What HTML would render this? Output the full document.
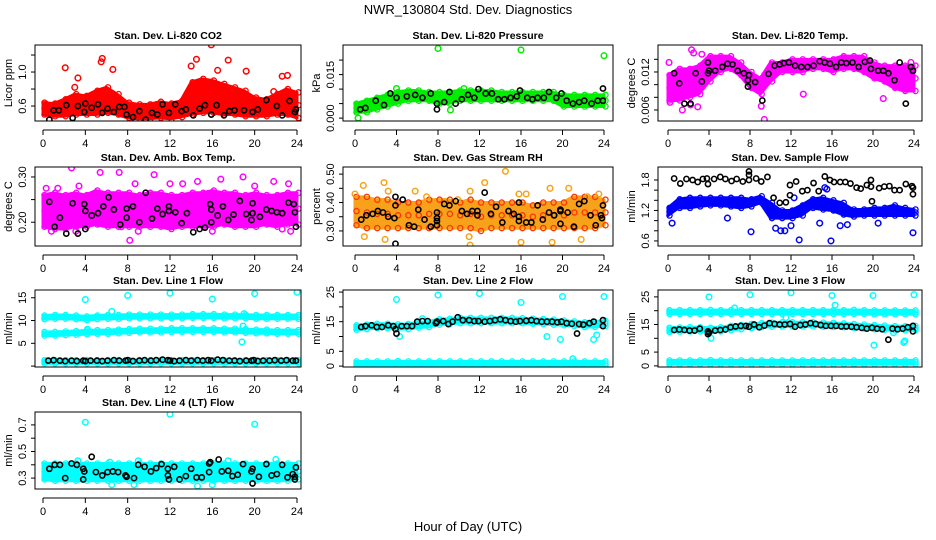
<!DOCTYPE html>
<html><head><meta charset="utf-8"><title>NWR_130804 Std. Dev. Diagnostics</title>
<style>
html,body{margin:0;padding:0;background:#fff;}
svg{display:block;font-family:"Liberation Sans",sans-serif;}
</style></head>
<body>
<svg id="chart" width="936" height="540" viewBox="0 0 936 540" xmlns="http://www.w3.org/2000/svg">
<rect width="936" height="540" fill="#fff"/>
<text x="468" y="14" text-anchor="middle" font-size="13">NWR_130804  Std. Dev. Diagnostics</text>
<text x="468" y="531" text-anchor="middle" font-size="13">Hour of Day (UTC)</text>
</svg>
<script>
const hours = [0,1,2,3,4,5,6,7,8,9,10,11,12,13,14,15,16,17,18,19,20,21,22,23,24];
const xTicks = [0,4,8,12,16,20,24];

// Panel 1 CO2
const co2Lo = [0.5,0.48,0.48,0.5,0.5,0.5,0.52,0.5,0.46,0.45,0.45,0.46,0.45,0.47,0.5,0.52,0.52,0.5,0.5,0.48,0.48,0.48,0.5,0.5,0.46];
const co2Hi = [0.64,0.63,0.68,0.74,0.72,0.78,0.82,0.74,0.64,0.62,0.62,0.65,0.63,0.66,0.88,0.92,0.9,0.86,0.82,0.78,0.7,0.68,0.74,0.8,0.76];
const co2Out = [[2.1,1.05],[3.3,0.93],[5.5,1.12],[5.6,1.16],[6.6,1.03],[14.5,1.15],[15.9,1.32],[17.5,1.14],[19.2,1.01],[22.6,0.95],[23.1,0.96],[14,1.07],[16.5,1.02],[0.3,0.62],[3,0.82],[21.8,0.77]];
const co2Blk = [[0.6,0.44],[1,0.55],[1.5,0.55],[2.2,0.61],[2.8,0.46],[3.3,0.6],[3.9,0.53],[4,0.63],[4.6,0.58],[5.2,0.62],[5.6,0.52],[6.1,0.57],[6.7,0.53],[7.2,0.59],[7.7,0.59],[7.9,0.5],[8.5,0.47],[9.1,0.54],[9.7,0.44],[10.3,0.52],[10.8,0.5],[11.3,0.62],[11.9,0.52],[12.5,0.62],[13.1,0.54],[13.5,0.56],[14.2,0.49],[14.8,0.57],[15.3,0.61],[15.9,0.5],[16.4,0.61],[17.1,0.49],[17.6,0.54],[18.1,0.55],[19,0.55],[19.8,0.53],[20.3,0.56],[21.1,0.67],[22.1,0.6],[22.6,0.49],[23.3,0.66],[23.8,0.53],[23.9,0.56]];
const co2Ticks = [0.6,0.8,1.0,1.2];
const co2Labels = ["0.6","","1.0",""];

// Panel 2 pressure
const presLo = [0.002,0.002,0.003,0.004,0.005,0.006,0.006,0.006,0.005,0.005,0.006,0.006,0.006,0.006,0.006,0.006,0.006,0.006,0.006,0.006,0.004,0.004,0.004,0.004,0.004];
const presHi = [0.005,0.006,0.007,0.008,0.009,0.0095,0.0095,0.009,0.009,0.009,0.0095,0.0095,0.0095,0.0095,0.009,0.009,0.009,0.009,0.009,0.009,0.008,0.008,0.008,0.008,0.008];
const presOut = [[8,0.024],[16,0.0235],[24,0.0215],[0.3,0.0],[4,0.0102],[10.5,0.0102],[9.2,0.0028]];
const presBlk = [[0.5,0.003],[1,0.0035],[2,0.006],[2.8,0.0045],[3.4,0.0085],[4,0.007],[5,0.0075],[5.8,0.008],[6.5,0.007],[7.3,0.0085],[7.9,0.005],[7.9,0.003],[8.6,0.0055],[9.1,0.009],[9.7,0.005],[10.3,0.0065],[10.9,0.008],[11.5,0.007],[11.9,0.01],[12.6,0.0085],[13.2,0.0085],[13.8,0.0065],[14.4,0.0065],[15,0.007],[15.6,0.0075],[15.9,0.0095],[16.6,0.007],[17.1,0.0065],[17.6,0.007],[18.2,0.007],[18.7,0.009],[19.4,0.007],[19.9,0.0085],[20.4,0.006],[21,0.005],[21.6,0.0055],[22.1,0.006],[22.8,0.005],[23.4,0.006],[23.9,0.006],[23.9,0.0102]];
const presTicks = [0.000,0.005,0.010,0.015,0.020];
const presLabels = ["0.000","","","0.015",""];

// Panel 3 Li-820 temp
const tmpLo = [0.0075,0.0075,0.008,0.0085,0.0105,0.012,0.0125,0.0115,0.0095,0.0085,0.0105,0.012,0.012,0.012,0.0125,0.0125,0.012,0.0125,0.0125,0.012,0.011,0.0105,0.0095,0.009,0.009];
const tmpHi = [0.0115,0.0125,0.0125,0.013,0.0145,0.0145,0.0145,0.0135,0.012,0.011,0.0135,0.0135,0.014,0.014,0.014,0.014,0.014,0.0145,0.0145,0.0145,0.0135,0.013,0.013,0.013,0.013];
const tmpOut = [[0.1,0.0135],[1.4,0.006],[2.3,0.0155],[2.5,0.015],[3.3,0.0148],[2.9,0.0065],[9.4,0.0045],[13.2,0.0085],[17,0.0138],[23.7,0.0135],[0.2,0.0072],[9.1,0.0066],[2.2,0.0068],[21,0.0078]];
const tmpBlk = [[0.6,0.0118],[1.1,0.0102],[1.6,0.007],[2.2,0.007],[2.7,0.0118],[3.3,0.0105],[3.9,0.0135],[3.9,0.0118],[4,0.0122],[4.6,0.0122],[5.3,0.0128],[5.8,0.0133],[6.3,0.0132],[6.8,0.0122],[7.4,0.0118],[7.9,0.0115],[7.8,0.0107],[7.8,0.0097],[8.5,0.0104],[9.2,0.0075],[9.8,0.0117],[10.4,0.013],[10.9,0.0132],[11.3,0.0134],[11.8,0.0135],[12.4,0.013],[13,0.0128],[13.6,0.0128],[14.2,0.013],[14.8,0.0137],[15.3,0.0135],[15.8,0.0133],[16.4,0.0128],[16.9,0.0135],[17.4,0.0134],[18,0.0135],[18.6,0.0128],[19.2,0.0136],[19.7,0.0138],[19.8,0.0125],[20.5,0.0122],[21,0.0122],[21.5,0.0118],[22.1,0.0107],[22.6,0.0135],[23.2,0.007],[23.7,0.0128],[23.9,0.0122]];
const tmpTicks = [0.006,0.008,0.010,0.012,0.014];
const tmpLabels = ["0.006","","","0.012",""];

// Panel 4 amb box temp
const ambLo = [0.19,0.185,0.185,0.19,0.19,0.195,0.19,0.19,0.19,0.19,0.19,0.19,0.185,0.19,0.19,0.19,0.19,0.195,0.19,0.19,0.19,0.195,0.19,0.195,0.195];
const ambHi = [0.26,0.265,0.26,0.265,0.26,0.27,0.265,0.265,0.265,0.26,0.265,0.265,0.26,0.26,0.265,0.265,0.27,0.265,0.265,0.26,0.265,0.26,0.26,0.265,0.265];
const ambOut = [[0.3,0.275],[1.4,0.275],[2.7,0.32],[3.4,0.28],[5.4,0.31],[7.2,0.31],[8.7,0.285],[10.5,0.305],[12,0.285],[13.2,0.285],[14.6,0.29],[16.8,0.295],[18.9,0.3],[20,0.28],[21.8,0.29],[23.2,0.285],[7.4,0.19],[9,0.18],[3.1,0.18],[8.2,0.16],[0.8,0.18],[22.6,0.185],[23.4,0.18],[16,0.18]];
const ambBlk = [[0.6,0.245],[1.1,0.19],[1.6,0.21],[2.2,0.175],[2.8,0.242],[3.3,0.175],[3.9,0.24],[4,0.225],[4,0.185],[4.6,0.215],[5.2,0.22],[5.7,0.235],[6.2,0.255],[6.7,0.228],[7.3,0.195],[7.9,0.23],[7.9,0.21],[8.5,0.235],[9.1,0.2],[9.7,0.265],[10.3,0.208],[10.8,0.23],[11.3,0.218],[11.9,0.225],[11.9,0.235],[12.5,0.222],[13.1,0.198],[13.6,0.22],[14.2,0.178],[14.8,0.185],[15.3,0.188],[15.8,0.24],[15.9,0.2],[15.9,0.228],[16.5,0.215],[17,0.235],[17.5,0.205],[18,0.217],[18.6,0.247],[19.2,0.218],[19.8,0.242],[19.7,0.205],[19.8,0.22],[20.5,0.212],[21.1,0.228],[21.6,0.225],[22.1,0.222],[22.6,0.22],[23.2,0.243],[23.7,0.24],[23.8,0.222],[23.9,0.19]];
const ambTicks = [0.20,0.25,0.30];
const ambLabels = ["0.20","","0.30"];

// Panel 5 gas stream RH
const rhLo = [0.32,0.31,0.31,0.31,0.31,0.31,0.31,0.31,0.31,0.31,0.31,0.31,0.3,0.31,0.31,0.31,0.31,0.31,0.31,0.31,0.31,0.31,0.31,0.31,0.32];
const rhHi = [0.42,0.42,0.41,0.41,0.4,0.4,0.4,0.41,0.41,0.41,0.4,0.41,0.4,0.4,0.4,0.4,0.4,0.39,0.4,0.4,0.4,0.42,0.42,0.42,0.41];
const rhOut = [[0,0.43],[0.8,0.46],[2.8,0.47],[3.2,0.44],[5.8,0.44],[6.9,0.42],[9.9,0.41],[11.1,0.44],[12.5,0.47],[14.5,0.51],[15.8,0.43],[16.5,0.43],[18.8,0.45],[20.6,0.45],[22.4,0.42],[23.5,0.43],[0.9,0.28],[2.9,0.27],[11.1,0.25],[16,0.26],[19,0.26],[21.8,0.27],[11,0.28]];
const rhBlk = [[0.6,0.34],[1.1,0.355],[1.7,0.36],[2.2,0.37],[2.7,0.365],[3.2,0.35],[3.8,0.345],[3.9,0.39],[3.9,0.42],[3.9,0.255],[4.6,0.41],[5.2,0.32],[5.7,0.315],[6.1,0.375],[6.7,0.34],[7.3,0.315],[7.9,0.32],[7.9,0.335],[7.9,0.345],[7.9,0.365],[8.6,0.395],[9.1,0.39],[9.7,0.405],[10.3,0.37],[10.8,0.36],[11.3,0.37],[11.8,0.355],[11.8,0.37],[12.5,0.435],[13.1,0.36],[13.6,0.385],[14.2,0.33],[14.8,0.37],[15.3,0.36],[15.8,0.335],[15.8,0.35],[15.8,0.4],[16.5,0.33],[17,0.33],[17.6,0.39],[18.1,0.34],[18.7,0.365],[19.2,0.355],[19.8,0.325],[19.8,0.37],[19.8,0.375],[20.5,0.365],[21.1,0.315],[21.6,0.395],[22.1,0.405],[22.7,0.355],[23.2,0.32],[23.7,0.355],[23.8,0.345],[23.9,0.39]];
const rhTicks = [0.30,0.35,0.40,0.45,0.50];
const rhLabels = ["0.30","","0.40","","0.50"];

// Panel 6 sample flow
const sfLo = [1.1,1.25,1.25,1.28,1.3,1.3,1.28,1.25,1.28,1.35,1.05,1.05,1.05,1.1,1.25,1.22,1.2,1.12,1.08,1.1,1.1,1.1,1.1,1.1,1.1];
const sfHi = [1.25,1.42,1.45,1.45,1.45,1.45,1.45,1.45,1.42,1.48,1.35,1.2,1.2,1.3,1.42,1.45,1.4,1.35,1.22,1.22,1.25,1.25,1.3,1.25,1.22];
const sfOut = [[0.4,0.95],[8.1,0.78],[5.8,1.05],[10.5,0.85],[11,0.8],[11.4,0.8],[12,0.9],[12.8,0.62],[14.8,0.95],[15.9,0.6],[16.8,0.9],[17.5,0.92],[20.5,0.95],[23.9,0.76],[15.3,1.65],[15.5,1.62],[12.3,1.45]];
const sfBlk = [[0.6,1.83],[1.2,1.73],[1.8,1.82],[2.4,1.8],[2.9,1.76],[3.4,1.82],[3.8,1.83],[3.9,1.72],[4.5,1.82],[5.1,1.86],[5.6,1.82],[6.2,1.78],[6.7,1.82],[7.3,1.77],[7.9,1.8],[7.9,1.9],[7.9,1.97],[8.6,1.83],[9.1,1.77],[9.7,1.86],[10.3,1.45],[10.9,1.35],[11.5,1.36],[11.9,1.5],[11.9,1.7],[12.5,1.77],[13.1,1.58],[13.6,1.6],[14.2,1.74],[14.7,1.58],[15.3,1.87],[15.8,1.8],[16.2,1.76],[16.8,1.76],[17.3,1.76],[17.8,1.73],[18.4,1.65],[18.8,1.63],[19.4,1.7],[19.8,1.67],[19.8,1.8],[19.9,1.38],[20.6,1.64],[21.1,1.67],[21.6,1.68],[22.1,1.6],[22.6,1.6],[23.2,1.72],[23.8,1.68],[23.9,1.65],[23.9,1.52]];
const sfTicks = [0.6,0.8,1.0,1.2,1.4,1.6,1.8];
const sfLabels = ["0.6","","","1.2","","","1.8"];

// Panel 7 line 1 flow
const l1aLo = [10.3,10.4,10.4,10.3,10.1,10.3,10.4,10.4,10.5,10.5,10.5,10.5,10.5,10.5,10.6,10.6,10.6,10.5,10.5,10.5,10.4,10.4,10.4,10.4,10.4];
const l1aHi = [11.1,11.2,11.2,11.1,10.9,11.1,11.2,11.2,11.3,11.3,11.3,11.3,11.3,11.3,11.4,11.4,11.4,11.3,11.3,11.3,11.2,11.2,11.2,11.2,11.2];
const l1bLo = [6.7,6.7,6.8,6.9,7.0,7.1,7.1,7.2,7.3,7.4,7.4,7.4,7.5,7.5,7.5,7.5,7.5,7.4,7.4,7.3,7.2,7.2,7.1,7.1,7.1];
const l1bHi = [7.5,7.5,7.6,7.7,7.8,7.9,7.9,8.0,8.1,8.2,8.2,8.2,8.3,8.3,8.3,8.3,8.3,8.2,8.2,8.1,8.0,8.0,7.9,7.9,7.9];
const l1cLo = [0.6,0.6,0.6,0.6,0.6,0.6,0.6,0.6,0.6,0.6,0.6,0.6,0.6,0.6,0.6,0.6,0.6,0.6,0.6,0.6,0.6,0.6,0.6,0.6,0.6];
const l1cHi = [1.3,1.3,1.3,1.3,1.3,1.3,1.3,1.3,1.3,1.3,1.3,1.3,1.3,1.3,1.3,1.3,1.3,1.3,1.3,1.3,1.3,1.3,1.3,1.3,1.3];
const l1Out = [[4,14.6],[8,15.5],[12,16],[16,14.7],[20,15.9],[24,16.2],[6.5,12],[19,11.5],[18.8,5.3],[18.9,8.8],[4.2,8.1]];
const l1BlkX = [0.5,1,1.6,2.1,2.7,3.2,3.8,4,4.5,5.1,5.6,6.1,6.7,7.2,7.8,8,8.5,9.1,9.6,10.2,10.7,11.3,11.8,12,12.4,12.9,13.5,14,14.6,15.1,15.6,15.9,16.5,17,17.6,18.1,18.6,19.2,19.7,19.9,20.3,20.8,21.4,21.9,22.5,23,23.6,23.9];
const l1BlkY = [1.2,1.3,1.2,1.1,1.2,1.1,1.2,1.1,1.2,1.2,1.1,1.2,1.3,1.2,1.2,1.3,1.1,1.2,1.3,1.2,1.3,1.4,1.3,1.2,1.1,1.2,1.3,1.2,1.3,1.2,1.3,1.2,1.4,1.3,1.2,1.2,1.1,1.2,1.2,1.3,1.1,1.2,1.2,1.3,1.2,1.3,1.2,1.2];
const l1Ticks = [0,5,10,15];
const l1Labels = ["","5","10","15"];

// Panel 8 line 2 flow
const l2aLo = [12.3,12.5,12.8,12.8,12.6,12.5,13,13.2,14,14.2,14.5,14.5,14.5,14.5,14.5,14.5,14.5,14.3,14.2,14,13.8,13.5,13.2,13.2,13.5];
const l2aHi = [13.8,14,14.3,14.3,14.1,14.2,14.7,15,15.8,16,16.3,16.3,16.3,16.3,16.3,16.3,16.2,16,15.9,15.7,15.4,15.1,14.8,14.9,15.3];
const l2cLo = [0.2,0.2,0.2,0.2,0.2,0.2,0.2,0.2,0.2,0.2,0.2,0.2,0.2,0.2,0.2,0.2,0.2,0.2,0.2,0.2,0.2,0.2,0.2,0.2,0.2];
const l2cHi = [1.6,1.6,1.6,1.6,1.7,1.6,1.6,1.6,1.6,1.6,1.6,1.6,1.6,1.6,1.6,1.6,1.6,1.6,1.6,1.6,1.6,1.6,1.6,1.6,1.6];
const l2Out = [[4,22.5],[8,24],[12,24.5],[16,21.5],[20,23.5],[24,23.5],[4.3,10],[18.5,10],[19.8,9],[21,2.5],[23,9],[23.3,10.5],[6.5,16]];
const l2Blk = [[0.6,13.2],[1,13.5],[1.6,13.8],[2.1,13.2],[2.6,13.2],[3.2,13.8],[3.7,13.5],[3.9,12.5],[4,11],[4.5,13.5],[5,13.5],[5.5,13.5],[6,15],[6.5,15.2],[7,15.2],[7.8,14.5],[7.9,15],[8.5,15.2],[9,14.2],[9.4,15],[9.9,16.5],[10.4,15.5],[11,15.5],[11.5,15.2],[11.9,15.2],[12.5,15],[13,15.2],[13.5,15.5],[14,15.8],[14.5,15.5],[15,15.2],[15.5,15],[15.9,15.2],[16.5,15.3],[17,15.5],[17.5,15.2],[18,15],[18.5,15],[19,15],[19.5,14.8],[19.9,15],[20.4,14.5],[20.9,14.3],[21.4,11],[21.6,14.2],[22,14],[22.6,14.5],[23,15],[23.9,15.5],[23.9,13.5]];
const l2Ticks = [0,5,10,15,20,25];
const l2Labels = ["0","5","","15","","25"];

// Panel 9 line 3 flow
const l3aLo = [18.8,18.8,18.8,18.8,18.8,18.8,18.8,18.8,18.8,18.8,18.8,18.8,18.8,18.8,18.8,18.8,18.8,18.8,18.8,18.8,18.7,18.7,18.7,18.7,18.7];
const l3aHi = [20.2,20.2,20.2,20.2,20.3,20.2,20.2,20.2,20.2,20.2,20.2,20.2,20.2,20.2,20.2,20.2,20.2,20.2,20.3,20.2,20.1,20.1,20.1,20.1,20.1];
const l3bLo = [12.3,12.4,12.5,12.5,12.3,12.5,13,13.3,13.7,14,14.2,14.3,14.3,14.3,14.3,14.2,14.1,14,13.8,13.5,13.3,13.1,12.9,12.9,13];
const l3bHi = [13.8,13.9,14,14,13.8,14,14.5,14.8,15.2,15.5,15.7,15.8,15.8,15.8,15.8,15.7,15.6,15.4,15.2,15,14.8,14.6,14.4,14.4,14.5];
const l3cLo = [0.6,0.6,0.6,0.6,0.6,0.6,0.6,0.6,0.6,0.6,0.6,0.6,0.6,0.6,0.6,0.6,0.6,0.6,0.6,0.6,0.6,0.6,0.6,0.6,0.6];
const l3cHi = [2.0,2.0,2.0,2.0,2.1,2.0,2.0,2.0,2.0,2.0,2.0,2.0,2.0,2.0,2.0,2.0,2.0,2.0,2.0,2.0,2.0,2.0,2.0,2.0,2.0];
const l3Out = [[4,25],[8,25.8],[12,26.5],[16,25.5],[20,25.5],[24,25.8],[4.2,10],[11.5,17.5],[20.1,7.5],[23,8.5],[23.1,9],[16.3,22],[22,12],[6.5,21]];
const l3Blk = [[0.6,13],[1.1,13.2],[1.6,13],[2.1,12.8],[2.6,12.8],[3.1,13.5],[3.9,12.5],[3.9,11.5],[4,12],[4.6,12.8],[5.1,13],[5.6,13.2],[6.1,14],[6.6,14.3],[7.1,14.5],[7.6,14.5],[7.9,14.2],[8.4,15],[8.9,14],[9.4,14.6],[9.9,15.5],[10.4,15.2],[10.9,15],[11.4,15],[11.9,15.2],[12.4,14.2],[12.9,14.8],[13.4,15],[13.9,15.5],[14.4,15.2],[14.9,14.8],[15.4,14.5],[15.9,14.5],[16.4,14.5],[16.9,14.3],[17.4,14.3],[17.9,14.2],[18.4,14],[18.9,13.8],[19.4,13.5],[19.9,13.8],[20.4,13.5],[20.9,13.3],[21.5,9.5],[21.9,13.5],[22.4,13.3],[22.9,13.5],[23.4,14],[23.9,14.5],[23.9,12.5]];
const l3Ticks = [0,5,10,15,20,25];
const l3Labels = ["0","5","","15","","25"];

// Panel 10 line 4 (LT) flow
const l4Lo = [0.29,0.28,0.28,0.28,0.28,0.28,0.28,0.28,0.28,0.28,0.28,0.28,0.28,0.28,0.28,0.28,0.28,0.28,0.28,0.28,0.28,0.28,0.28,0.28,0.29];
const l4Hi = [0.41,0.41,0.41,0.41,0.41,0.41,0.41,0.41,0.41,0.41,0.41,0.41,0.41,0.41,0.41,0.41,0.41,0.41,0.41,0.41,0.41,0.41,0.41,0.41,0.41];
const l4Out = [[4,0.72],[12,0.78],[20,0.705],[6.5,0.25],[8.6,0.25],[14.6,0.24],[16,0.25],[3.3,0.43],[22,0.44],[9,0.43],[6.3,0.42],[17.5,0.43]];
const l4Blk = [[0.6,0.37],[1.1,0.4],[1.6,0.4],[2.1,0.3],[2.7,0.41],[3.2,0.4],[3.8,0.29],[3.8,0.37],[3.9,0.35],[4.6,0.46],[5,0.345],[5.6,0.32],[6.1,0.345],[6.6,0.35],[7.1,0.345],[7.8,0.32],[7.9,0.31],[8.6,0.3],[9,0.4],[9.6,0.385],[10.2,0.35],[10.7,0.375],[11.2,0.405],[11.8,0.37],[11.8,0.32],[11.9,0.29],[12.4,0.385],[12.9,0.29],[13.5,0.315],[14,0.37],[14.5,0.305],[15,0.305],[15.7,0.41],[15.7,0.345],[15.8,0.42],[16.6,0.44],[16.9,0.35],[17.5,0.355],[17.9,0.315],[18.4,0.325],[18.9,0.405],[19.7,0.35],[19.8,0.37],[19.8,0.26],[20.4,0.31],[21.1,0.405],[21.6,0.32],[22.1,0.33],[22.6,0.4],[23.1,0.305],[23.6,0.33],[23.8,0.29],[23.8,0.31],[23.9,0.38]];
const l4Ticks = [0.3,0.4,0.5,0.6,0.7];
const l4Labels = ["0.3","","0.5","","0.7"];

const l1Blk = l1BlkX.map((x,i)=>[x,l1BlkY[i]]);

const NS = "http://www.w3.org/2000/svg";
const svg = document.getElementById("chart");
const cols = [{bx0:35,bx1:301,h0:43,h24:297},{bx0:343,bx1:613,h0:355,h24:604},{bx0:658,bx1:922,h0:668,h24:914}];
const rows = [{by0:45,by1:121},{by0:167,by1:246},{by0:290,by1:367},{by0:412,by1:489}];

function el(tag, attrs, parent){
  const e = document.createElementNS(NS, tag);
  for (const k in attrs) e.setAttribute(k, attrs[k]);
  (parent||svg).appendChild(e);
  return e;
}

const panels = [
 {key:"co2",title:"Stan. Dev. Li-820 CO2",ylab:"Licor ppm",c:0,r:0,ymin:0.424,ymax:1.318,ticks:co2Ticks,labels:co2Labels,color:"#ff0000",bands:[[co2Lo,co2Hi]],out:co2Out,blk:co2Blk},
 {key:"pressure",title:"Stan. Dev. Li-820 Pressure",ylab:"kPa",c:1,r:0,ymin:-0.001,ymax:0.0252,ticks:presTicks,labels:presLabels,color:"#00ee00",bands:[[presLo,presHi]],out:presOut,blk:presBlk},
 {key:"li820-temp",title:"Stan. Dev. Li-820 Temp.",ylab:"degrees C",c:2,r:0,ymin:0.00426,ymax:0.01626,ticks:tmpTicks,labels:tmpLabels,color:"#ff00ff",bands:[[tmpLo,tmpHi]],out:tmpOut,blk:tmpBlk},
 {key:"amb-box-temp",title:"Stan. Dev. Amb. Box Temp.",ylab:"degrees C",c:0,r:1,ymin:0.1475,ymax:0.322,ticks:ambTicks,labels:ambLabels,color:"#ff00ff",bands:[[ambLo,ambHi]],out:ambOut,blk:ambBlk},
 {key:"gas-rh",title:"Stan. Dev. Gas Stream RH",ylab:"percent",c:1,r:1,ymin:0.247,ymax:0.525,ticks:rhTicks,labels:rhLabels,color:"#f7a21a",edge:"#ff3300",bands:[[rhLo,rhHi]],out:rhOut,blk:rhBlk},
 {key:"sample-flow",title:"Stan. Dev. Sample Flow",ylab:"ml/min",c:2,r:1,ymin:0.5,ymax:2.056,ticks:sfTicks,labels:sfLabels,color:"#0000ff",bands:[[sfLo,sfHi]],out:sfOut,blk:sfBlk},
 {key:"line1-flow",title:"Stan. Dev. Line 1 Flow",ylab:"ml/min",c:0,r:2,ymin:-0.2,ymax:16.7,ticks:l1Ticks,labels:l1Labels,color:"#00ffff",bands:[[l1aLo,l1aHi],[l1bLo,l1bHi],[l1cLo,l1cHi]],out:l1Out,blk:l1Blk},
 {key:"line2-flow",title:"Stan. Dev. Line 2 Flow",ylab:"ml/min",c:1,r:2,ymin:-0.3,ymax:25.7,ticks:l2Ticks,labels:l2Labels,color:"#00ffff",bands:[[l2aLo,l2aHi],[l2cLo,l2cHi]],out:l2Out,blk:l2Blk},
 {key:"line3-flow",title:"Stan. Dev. Line 3 Flow",ylab:"ml/min",c:2,r:2,ymin:-0.4,ymax:27.5,ticks:l3Ticks,labels:l3Labels,color:"#00ffff",bands:[[l3aLo,l3aHi],[l3bLo,l3bHi],[l3cLo,l3cHi]],out:l3Out,blk:l3Blk},
 {key:"line4-flow",title:"Stan. Dev. Line 4 (LT) Flow",ylab:"ml/min",c:0,r:3,ymin:0.218,ymax:0.797,ticks:l4Ticks,labels:l4Labels,color:"#00ffff",bands:[[l4Lo,l4Hi]],out:l4Out,blk:l4Blk}
];

panels.forEach(p=>{
  const C = cols[p.c], R = rows[p.r];
  const xs = h => C.h0 + (h/24)*(C.h24-C.h0);
  const ys = v => R.by1 - (v-p.ymin)/(p.ymax-p.ymin)*(R.by1-R.by0);
  const g = el("g",{});
  
  
  const clipId = "clip-"+p.key;
  const cp = el("clipPath",{id:clipId},g);
  el("rect",{x:C.bx0,y:R.by0,width:C.bx1-C.bx0,height:R.by1-R.by0},cp);
  const plot = el("g",{"clip-path":"url(#"+clipId+")"},g);
  
  
  p.bands.forEach((b,bi)=>{
    const lo=b[0], hi=b[1];
    let pts = hours.map((h,i)=>xs(h)+","+ys(hi[i]));
    pts = pts.concat(hours.slice().reverse().map((h,j)=>{const i=hours.length-1-j; return xs(h)+","+ys(lo[i]);}));
    const poly = el("polygon",{points:pts.join(" "),fill:p.color,stroke:p.color,"stroke-width":3,"stroke-linejoin":"round"},plot);
    
    
    hours.forEach((h,i)=>{
      [lo[i],hi[i],(lo[i]+hi[i])/2].forEach(v=>{
        const c = el("circle",{cx:xs(h)+1.5,cy:ys(v),r:2.6,fill:"none",stroke:p.edge||p.color,"stroke-width":1.3},plot);
        
        
      });
    });
  });
  p.out.forEach(pt=>{
    const c = el("circle",{cx:xs(pt[0]),cy:ys(pt[1]),r:2.8,fill:"none",stroke:p.color,"stroke-width":1.5},plot);
    
    
  });
  p.blk.forEach(pt=>{
    const c = el("circle",{cx:xs(pt[0]),cy:ys(pt[1]),r:2.6,fill:"none",stroke:"#000","stroke-width":1.6},plot);
    
    
  });
  const box = el("rect",{x:C.bx0,y:R.by0,width:C.bx1-C.bx0,height:R.by1-R.by0,fill:"none",stroke:"#000","stroke-width":1},g);
  
  
  const t = el("text",{x:(C.bx0+C.bx1)/2,y:R.by0-6,"text-anchor":"middle","font-size":10.5,"font-weight":"bold"},g);
  t.textContent = p.title;
  
  
  const ay = R.by1+9;
  const xa = el("g",{},g);
  
  
  el("line",{x1:xs(0),x2:xs(24),y1:ay,y2:ay,stroke:"#000","stroke-width":1},xa);
  xTicks.forEach(h=>{
    el("line",{x1:xs(h),x2:xs(h),y1:ay,y2:ay+5,stroke:"#000","stroke-width":1},xa);
    const tl = el("text",{x:xs(h),y:ay+17,"text-anchor":"middle","font-size":11},xa);
    tl.textContent = String(h);
    
    
  });
  const ya = el("g",{},g);
  
  
  p.ticks.forEach((v,i)=>{
    const yy = ys(v);
    el("line",{x1:C.bx0-4,x2:C.bx0,y1:yy,y2:yy,stroke:"#000","stroke-width":1},ya);
    if (p.labels[i]) {
      const lx = C.bx0-9;
      const tl = el("text",{x:lx,y:yy,"text-anchor":"middle","font-size":11,transform:"rotate(-90 "+lx+" "+yy+")"},ya);
      tl.textContent = p.labels[i];
      
      
    }
  });
  const tx = C.bx0-23, ty = (R.by0+R.by1)/2;
  const yt = el("text",{x:tx,y:ty,"text-anchor":"middle","font-size":11,transform:"rotate(-90 "+tx+" "+ty+")"},g);
  yt.textContent = p.ylab;
  
  
});
</script>
</body></html>
